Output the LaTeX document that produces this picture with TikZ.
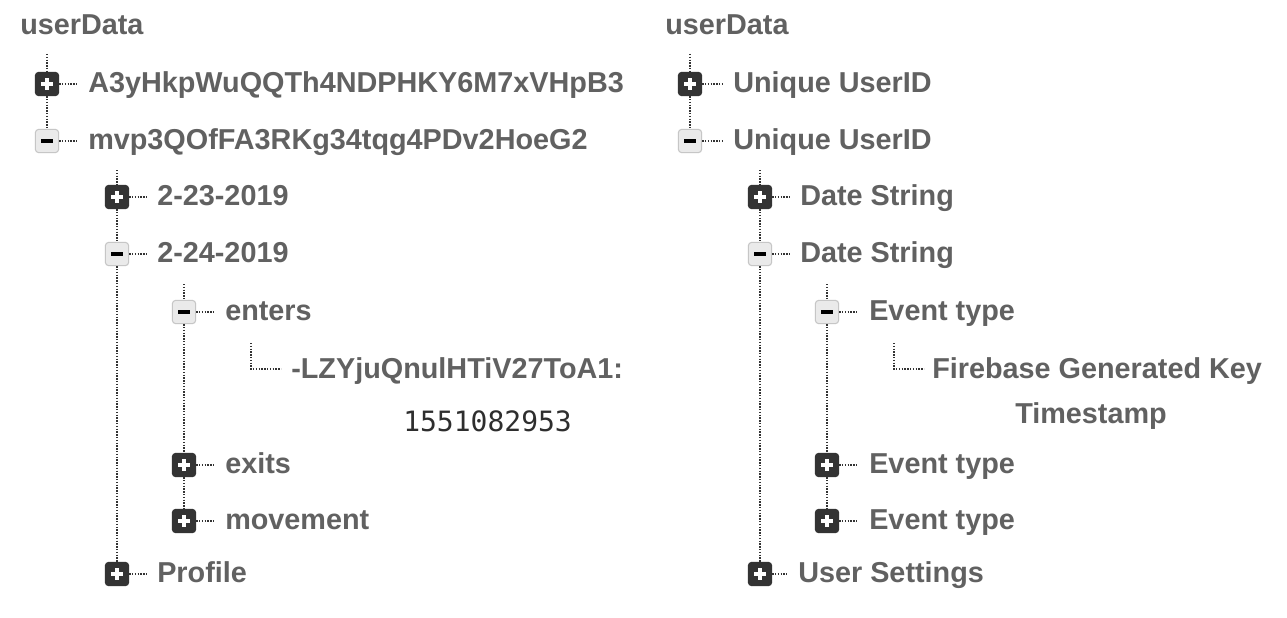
\documentclass[tikz,border=0pt]{standalone}
\usepackage{fontspec}
\setmainfont{Liberation Sans}
\setmonofont{DejaVu Sans Mono}
\definecolor{txt}{HTML}{616161}
\definecolor{numc}{HTML}{2E2E2E}
\definecolor{dotc}{HTML}{333333}
\definecolor{pfill}{HTML}{333333}
\definecolor{mfill}{HTML}{EAEAEA}
\definecolor{mdraw}{HTML}{C6C6C6}
\tikzset{
  dotline/.style={draw=dotc, line width=1.1pt, dash pattern=on 1pt off 1.1pt},
  boxbase/.style={minimum width=17.5pt, minimum height=17.5pt, inner sep=0pt, rounded corners=2.6pt, line width=0.8pt},
  pbox/.style={boxbase, draw=pfill, fill=pfill,
    path picture={
      \fill[white, sharp corners] ([xshift=-4.3pt,yshift=-1.4pt]path picture bounding box.center) rectangle ([xshift=4.3pt,yshift=1.4pt]path picture bounding box.center);
      \fill[white, sharp corners] ([xshift=-1.4pt,yshift=-4.3pt]path picture bounding box.center) rectangle ([xshift=1.4pt,yshift=4.3pt]path picture bounding box.center);}},
  mbox/.style={boxbase, draw=mdraw, fill=mfill,
    path picture={
      \fill[black, sharp corners] ([xshift=-4.5pt,yshift=-1.5pt]path picture bounding box.center) rectangle ([xshift=4.5pt,yshift=1.5pt]path picture bounding box.center);}},
  lbl/.style={font=\fontsize{21.6}{26}\selectfont\bfseries, text=txt, inner sep=0pt, anchor=base west},
  numlbl/.style={font=\fontsize{21}{25}\selectfont\ttfamily, text=numc, inner sep=0pt, anchor=base west},
  hook/.style={dotline, shorten >=8pt}
}
\begin{document}
\begin{tikzpicture}[x=0.75pt, y=-0.75pt]
\useasboundingbox (0,0) rectangle (1287,617);
\fill[white] (0,0) rectangle (1287,617);

% ---------------- left tree ----------------
\node[lbl] (L0) at (20,35) {userData};
\coordinate (L0s) at (47,54);
\node[pbox] (L1a) at (47,84) {};
\node[mbox] (L1b) at (47,141) {};
\node[lbl] (L1at) at (88,92) {A3yHkpWuQQTh4NDPHKY6M7xVHpB3};
\node[lbl] (L1bt) at (88,149) {mvp3QOfFA3RKg34tqg4PDv2HoeG2};
\draw[dotline] (L0s) -- (L1a);
\draw[dotline] (L1a) -- (L1b);
\draw[hook] (L1a) -- (L1a -| L1at.west);
\draw[hook] (L1b) -- (L1b -| L1bt.west);

\coordinate (L1s) at (117,170);
\node[pbox] (L2a) at (117,197) {};
\node[mbox] (L2b) at (117,254) {};
\node[pbox] (L2c) at (117,574) {};
\node[lbl] (L2at) at (157,205) {2-23-2019};
\node[lbl] (L2bt) at (157,262) {2-24-2019};
\node[lbl] (L2ct) at (157,582) {Profile};
\draw[dotline] (L1s) -- (L2a);
\draw[dotline] (L2a) -- (L2b);
\draw[dotline] (L2b) -- (L2c);
\draw[hook] (L2a) -- (L2a -| L2at.west);
\draw[hook] (L2b) -- (L2b -| L2bt.west);
\draw[hook] (L2c) -- (L2c -| L2ct.west);

\coordinate (L2s) at (184,284);
\node[mbox] (L3a) at (184,312) {};
\node[pbox] (L3b) at (184,465) {};
\node[pbox] (L3c) at (184,521) {};
\node[lbl] (L3at) at (225,320) {enters};
\node[lbl] (L3bt) at (225,473) {exits};
\node[lbl] (L3ct) at (225,529) {movement};
\draw[dotline] (L2s) -- (L3a);
\draw[dotline] (L3a) -- (L3b);
\draw[dotline] (L3b) -- (L3c);
\draw[hook] (L3a) -- (L3a -| L3at.west);
\draw[hook] (L3b) -- (L3b -| L3bt.west);
\draw[hook] (L3c) -- (L3c -| L3ct.west);

\coordinate (L3s) at (251,343);
\coordinate (L4e) at (281,369);
\draw[dotline] (L3s) |- (L4e);
\node[lbl] (L4t) at (291,378) {-LZYjuQnulHTiV27ToA1:};
\node[numlbl] (L4v) at (403,431) {1551082953};

% ---------------- right tree ----------------
\node[lbl] (R0) at (665,35) {userData};
\coordinate (R0s) at (690,54);
\node[pbox] (R1a) at (690,84) {};
\node[mbox] (R1b) at (690,141) {};
\node[lbl] (R1at) at (733,92) {Unique UserID};
\node[lbl] (R1bt) at (733,149) {Unique UserID};
\draw[dotline] (R0s) -- (R1a);
\draw[dotline] (R1a) -- (R1b);
\draw[hook] (R1a) -- (R1a -| R1at.west);
\draw[hook] (R1b) -- (R1b -| R1bt.west);

\coordinate (R1s) at (760,170);
\node[pbox] (R2a) at (760,197) {};
\node[mbox] (R2b) at (760,254) {};
\node[pbox] (R2c) at (760,574) {};
\node[lbl] (R2at) at (800,205) {Date String};
\node[lbl] (R2bt) at (800,262) {Date String};
\node[lbl] (R2ct) at (798,582) {User Settings};
\draw[dotline] (R1s) -- (R2a);
\draw[dotline] (R2a) -- (R2b);
\draw[dotline] (R2b) -- (R2c);
\draw[hook] (R2a) -- (R2a -| R2at.west);
\draw[hook] (R2b) -- (R2b -| R2bt.west);
\draw[hook] (R2c) -- (R2c -| R2ct.west);

\coordinate (R2s) at (827,284);
\node[mbox] (R3a) at (827,312) {};
\node[pbox] (R3b) at (827,465) {};
\node[pbox] (R3c) at (827,521) {};
\node[lbl] (R3at) at (869,320) {Event type};
\node[lbl] (R3bt) at (869,473) {Event type};
\node[lbl] (R3ct) at (869,529) {Event type};
\draw[dotline] (R2s) -- (R3a);
\draw[dotline] (R3a) -- (R3b);
\draw[dotline] (R3b) -- (R3c);
\draw[hook] (R3a) -- (R3a -| R3at.west);
\draw[hook] (R3b) -- (R3b -| R3bt.west);
\draw[hook] (R3c) -- (R3c -| R3ct.west);

\coordinate (R3s) at (894,343);
\coordinate (R4e) at (924,369);
\draw[dotline] (R3s) |- (R4e);
\node[lbl] (R4t) at (932,378) {Firebase Generated Key};
\node[lbl] (R4v) at (1015,423) {Timestamp};
\end{tikzpicture}
\end{document}
